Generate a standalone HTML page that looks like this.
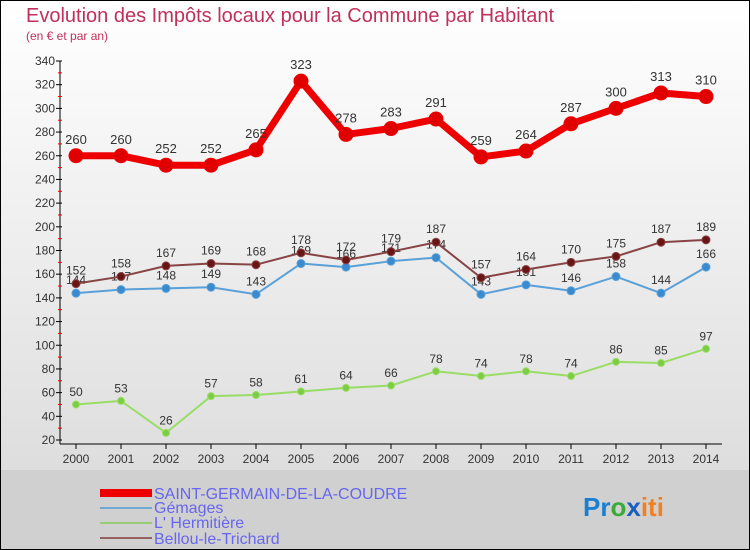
<!DOCTYPE html>
<html><head><meta charset="utf-8"><style>
body{margin:0;width:750px;height:550px;overflow:hidden;font-family:"Liberation Sans",sans-serif}
svg{display:block}
</style></head><body>
<svg id="c" width="750" height="550" xmlns="http://www.w3.org/2000/svg">
<defs><linearGradient id="bg" x1="0" y1="0" x2="0" y2="1"><stop offset="0" stop-color="#ffffff"/><stop offset="1" stop-color="#d8d8d8"/></linearGradient></defs>
<rect x="0" y="0" width="750" height="550" fill="url(#bg)"/>
<rect x="0" y="470" width="750" height="80" fill="#d0d0d0"/>
<rect x="0.5" y="0.5" width="749" height="549" fill="none" stroke="#000"/>
<text x="26" y="22" font-size="20" fill="#c0305a">Evolution des Impôts locaux pour la Commune par Habitant</text>
<text x="26" y="40" font-size="12" fill="#c0305a">(en € et par an)</text>
<g id="axes"></g><g id="series"></g>
<g>
<rect x="100" y="489" width="52" height="8" fill="#ee0000"/>
<text x="154" y="499" font-size="16" fill="#6666ee">SAINT-GERMAIN-DE-LA-COUDRE</text>
<line x1="100" y1="508" x2="152" y2="508" stroke="#6fa8d0" stroke-width="2"/>
<text x="154" y="513" font-size="16" fill="#6666ee">Gémages</text>
<line x1="100" y1="523" x2="152" y2="523" stroke="#99cc77" stroke-width="2"/>
<text x="154" y="528" font-size="16" fill="#6666ee">L' Hermitière</text>
<line x1="100" y1="538" x2="152" y2="538" stroke="#946060" stroke-width="2"/>
<text x="154" y="544" font-size="16" fill="#6666ee">Bellou-le-Trichard</text>
</g>
<text x="583" y="516" font-size="26" font-weight="bold"><tspan fill="#1a7fd0">Pr</tspan><tspan fill="#3aaa3a">o</tspan><tspan fill="#1a5fc0">x</tspan><tspan fill="#f08020">iti</tspan></text>
</svg>
<script>
const years=[2000,2001,2002,2003,2004,2005,2006,2007,2008,2009,2010,2011,2012,2013,2014];
const saintGermain=[260,260,252,252,265,323,278,283,291,259,264,287,300,313,310];
const gemages=[144,147,148,149,143,169,166,171,174,143,151,146,158,144,166];
const hermitiere=[50,53,26,57,58,61,64,66,78,74,78,74,86,85,97];
const bellou=[152,158,167,169,168,178,172,179,187,157,164,170,175,187,189];
const yTicks=[20,40,60,80,100,120,140,160,180,200,220,240,260,280,300,320,340];
const NS="http://www.w3.org/2000/svg";
const X=i=>76+i*45, Y=v=>440-(v-20)*(379/320);
function mk(tag,attrs,parent,txt){const e=document.createElementNS(NS,tag);for(const k in attrs)e.setAttribute(k,attrs[k]);if(txt!==undefined)e.textContent=txt;parent.appendChild(e);return e;}
const ax=document.getElementById('axes');
const yl=mk('line',{x1:60,y1:61,x2:60,y2:444,stroke:'#000'},ax);


const xl=mk('line',{x1:60,y1:444,x2:722,y2:444,stroke:'#000'},ax);


yTicks.forEach(t=>{
  mk('line',{x1:56,y1:Y(t),x2:62,y2:Y(t),stroke:'#000'},ax);
  if(t<340){mk('line',{x1:58,y1:Y(t+10),x2:62,y2:Y(t+10),stroke:'#e00'},ax);}
  const tx=mk('text',{x:55,y:Y(t)+4,'font-size':12,fill:'#333','text-anchor':'end'},ax,t);
  
  
});
years.forEach((yr,i)=>{
  mk('line',{x1:X(i),y1:444,x2:X(i),y2:449,stroke:'#000'},ax);
  const tx=mk('text',{x:X(i),y:463,'font-size':12,fill:'#333','text-anchor':'middle'},ax,yr);
  
  
});
const sg=document.getElementById('series');
function series(vals,name,color,lw,r,fs,dark){
  const g=mk('g',{},sg);
  
  
  const pts=vals.map((v,i)=>X(i)+','+Y(v)).join(' ');
  mk('polyline',{points:pts,fill:'none',stroke:color,'stroke-width':lw,'stroke-linejoin':'round'},g);
  vals.forEach((v,i)=>{
    const c=mk('circle',{cx:X(i),cy:Y(v),r:r,fill:dark,stroke:color,'stroke-width':1},g);
    
    
    const t=mk('text',{x:X(i),y:Y(v)-r-5,'font-size':fs,fill:'#333','text-anchor':'middle'},g,v);
    
    
  });
}
series(hermitiere,'hermitiere','#99dd66',2,3.5,12,'#7ccc44');
series(gemages,'gemages','#5aa0d8',2,4,12,'#3a8ad0');
series(bellou,'bellou','#884444',2,4,12,'#6a1515');
series(saintGermain,'saint-germain','#ee0000',7,7,13,'#e00000');
</script>
</body></html>
